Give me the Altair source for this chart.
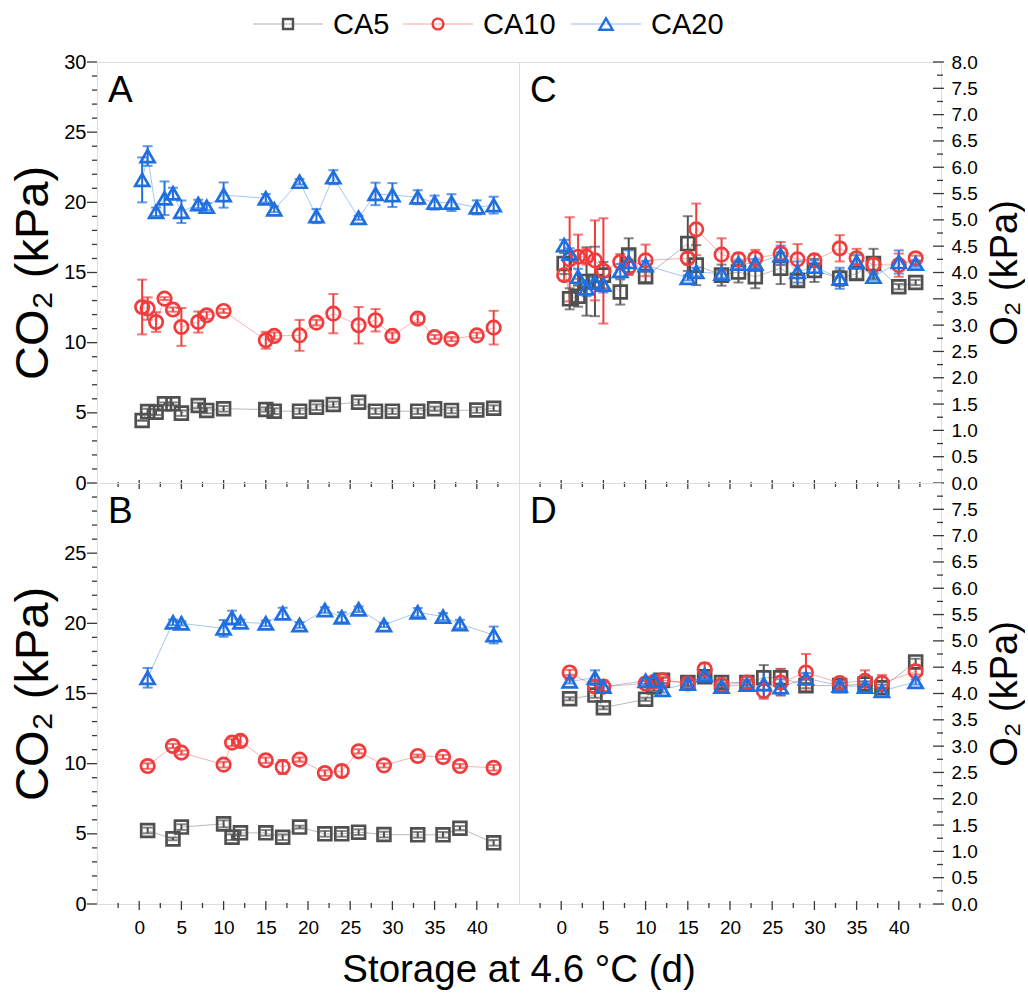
import altair as alt
import pandas as pd

FONT = "Liberation Sans"
TICK = "#3a3a3a"

# ---------------- data ----------------
series = ["CA5", "CA10", "CA20"]
colors = ["#505050", "#f03c3c", "#1f6fde"]
shapes = ["square", "circle", "triangle-up"]
sizes = [165, 195, 290]

days_top = [0.35, 1, 2, 3, 4, 5, 7, 8, 10, 15, 16, 19, 21, 23, 26, 28, 30, 33, 35, 37, 40, 42]
days_bottom = [1, 4, 5, 10, 11, 12, 15, 17, 19, 22, 24, 26, 29, 33, 36, 38, 42]

# Panel A: CO2 (kPa), storage days_top
A_CA5 = [4.45, 5.09, 5.05, 5.64, 5.64, 4.98, 5.52, 5.17, 5.29, 5.24, 5.12, 5.12, 5.40, 5.60, 5.76, 5.12, 5.12, 5.12, 5.29, 5.17, 5.20, 5.33]
A_CA5_err = [0.0, 0.2, 0.2, 0.1, 0.1, 0.2, 0.2, 0.2, 0.2, 0.15, 0.2, 0.2, 0.2, 0.2, 0.2, 0.2, 0.2, 0.2, 0.15, 0.2, 0.2, 0.2]
A_CA10 = [12.54, 12.43, 11.47, 13.14, 12.36, 11.12, 11.47, 11.95, 12.26, 10.17, 10.48, 10.52, 11.43, 12.07, 11.24, 11.60, 10.48, 11.71, 10.40, 10.26, 10.52, 11.07]
A_CA10_err = [1.95, 0.8, 0.7, 0.1, 0.15, 1.35, 0.75, 0.25, 0.15, 0.6, 0.25, 1.1, 0.2, 1.4, 1.3, 0.8, 0.25, 0.3, 0.15, 0.15, 0.2, 1.2]
A_CA20 = [21.6, 23.3, 19.33, 20.29, 20.64, 19.33, 19.88, 19.69, 20.52, 20.29, 19.5, 21.47, 19.02, 21.79, 18.9, 20.6, 20.52, 20.36, 19.98, 19.98, 19.64, 19.8]
A_CA20_err = [1.6, 0.7, 0.3, 1.2, 0.4, 0.8, 0.3, 0.25, 0.9, 0.3, 0.2, 0.2, 0.5, 0.5, 0.15, 0.8, 0.85, 0.5, 0.5, 0.6, 0.5, 0.6]

# Panel B: CO2 (kPa), storage days_bottom
B_CA5 = [5.24, 4.64, 5.48, 5.71, 4.76, 5.07, 5.07, 4.76, 5.48, 5.0, 5.0, 5.12, 4.95, 4.93, 4.93, 5.4, 4.36]
B_CA5_err = [0.2, 0.1, 0.2, 0.25, 0.2, 0.2, 0.2, 0.2, 0.1, 0.2, 0.2, 0.2, 0.2, 0.2, 0.2, 0.15, 0.2]
B_CA10 = [9.83, 11.26, 10.79, 9.93, 11.5, 11.62, 10.24, 9.76, 10.29, 9.33, 9.48, 10.88, 9.88, 10.55, 10.48, 9.83, 9.71]
B_CA10_err = [0.2, 0.15, 0.15, 0.2, 0.25, 0.35, 0.2, 0.5, 0.15, 0.2, 0.4, 0.15, 0.15, 0.1, 0.15, 0.15, 0.2]
B_CA20 = [16.12, 20.07, 20.0, 19.64, 20.4, 20.07, 20.0, 20.71, 19.88, 20.95, 20.43, 21.0, 19.88, 20.79, 20.48, 19.95, 19.17]
B_CA20_err = [0.7, 0.2, 0.15, 0.6, 0.5, 0.2, 0.2, 0.4, 0.2, 0.2, 0.35, 0.2, 0.15, 0.3, 0.25, 0.3, 0.6]

# Panel C: O2 (kPa), storage days_top
C_CA5 = [4.17, 3.50, 3.55, 3.83, 3.83, 3.95, 3.63, 4.33, 3.92, 4.55, 4.14, 3.95, 4.01, 3.92, 4.08, 3.85, 4.04, 3.89, 3.98, 4.17, 3.73, 3.81]
C_CA5_err = [0.2, 0.2, 0.2, 0.65, 0.66, 0.25, 0.24, 0.32, 0.1, 0.52, 0.38, 0.2, 0.2, 0.22, 0.3, 0.1, 0.22, 0.15, 0.1, 0.28, 0.05, 0.05]
C_CA10 = [3.95, 4.25, 4.30, 4.30, 4.23, 4.03, 4.20, 4.10, 4.23, 4.27, 4.82, 4.34, 4.25, 4.27, 4.36, 4.25, 4.23, 4.46, 4.27, 4.15, 4.14, 4.27]
C_CA10_err = [0.1, 0.8, 0.42, 0.15, 0.76, 1.0, 0.15, 0.15, 0.3, 0.1, 0.49, 0.31, 0.12, 0.16, 0.22, 0.29, 0.11, 0.25, 0.18, 0.14, 0.22, 0.05]
C_CA20 = [4.52, 4.36, 3.92, 3.70, 3.81, 3.77, 4.03, 4.20, 4.14, 3.90, 4.01, 3.98, 4.17, 4.17, 4.33, 4.01, 4.11, 3.89, 4.20, 3.92, 4.20, 4.17]
C_CA20_err = [0.1, 0.1, 0.15, 0.15, 0.1, 0.15, 0.13, 0.22, 0.08, 0.05, 0.08, 0.08, 0.06, 0.08, 0.18, 0.2, 0.12, 0.2, 0.13, 0.06, 0.22, 0.06]

# Panel D: O2 (kPa), storage days_bottom
D_CA5 = [3.90, 3.97, 3.73, 3.89, 4.13, 4.25, 4.21, 4.32, 4.21, 4.21, 4.30, 4.30, 4.15, 4.15, 4.18, 4.11, 4.60]
D_CA5_err = [0.03, 0.05, 0.03, 0.03, 0.08, 0.05, 0.05, 0.05, 0.05, 0.05, 0.24, 0.17, 0.05, 0.05, 0.05, 0.06, 0.06]
D_CA10 = [4.40, 4.13, 4.13, 4.19, 4.22, 4.25, 4.19, 4.46, 4.16, 4.21, 4.05, 4.21, 4.40, 4.20, 4.24, 4.20, 4.42]
D_CA10_err = [0.05, 0.1, 0.08, 0.05, 0.05, 0.06, 0.05, 0.12, 0.05, 0.05, 0.15, 0.25, 0.35, 0.06, 0.2, 0.15, 0.06]
D_CA20 = [4.23, 4.30, 4.13, 4.24, 4.25, 4.07, 4.19, 4.35, 4.13, 4.17, 4.18, 4.12, 4.29, 4.15, 4.13, 4.05, 4.22]
D_CA20_err = [0.04, 0.14, 0.12, 0.06, 0.05, 0.05, 0.06, 0.06, 0.05, 0.05, 0.25, 0.15, 0.1, 0.07, 0.06, 0.05, 0.05]

# axis tick labels
x_labels = [0, 5, 10, 15, 20, 25, 30, 35, 40]
co2_labels_top = [0, 5, 10, 15, 20, 25, 30]
co2_labels_bottom = [0, 5, 10, 15, 20, 25]
o2_labels_top = [0.0, 0.5, 1.0, 1.5, 2.0, 2.5, 3.0, 3.5, 4.0, 4.5, 5.0, 5.5, 6.0, 6.5, 7.0, 7.5, 8.0]
o2_labels_bottom = o2_labels_top[:-1]
x_title = "Storage at 4.6 °C (d)"

x_minor = [v + 2.5 for v in [-5] + x_labels]
co2_minor = [v for v in range(0, 31) if v % 5 != 0]
o2_minor = [v / 4 for v in range(0, 33) if v % 2 == 1]

W, H = 422, 421


def long_df(days, vals, errs):
    rows = []
    for s, vs, es in zip(series, vals, errs):
        for d, v, e in zip(days, vs, es):
            rows.append({"series": s, "day": d, "val": v, "lo": v - e, "hi": v + e})
    return pd.DataFrame(rows)


def legend_layers():
    centers = [191, 341, 509]
    out = []
    for s, c, sh, sz, xc in zip(series, colors, shapes, sizes, centers):
        b = alt.Chart(pd.DataFrame({"series": [s]}))
        out.append(b.mark_rule(color=c, strokeWidth=1, opacity=0.45).encode(
            x=alt.value(xc - 35), x2=alt.value(xc + 35), y=alt.value(-38)))
        out.append(b.mark_point(shape=sh, size=sz * 0.6, filled=False, color=c, strokeWidth=2.4,
                                opacity=1).encode(x=alt.value(xc), y=alt.value(-38)))
        out.append(b.mark_text(font=FONT, fontSize=29, align="left", baseline="middle",
                               color="black").encode(text="series:N", x=alt.value(xc + 45),
                                                     y=alt.value(-37)))
    return out


def panel(df, letter, side, ydom, y_labels, y_minor, y_title, fmt, show_x_labels, extra=()):
    xs = alt.Scale(domain=[-5, 45], nice=False, zero=False)
    ys = alt.Scale(domain=ydom, nice=False, zero=False)
    xaxis = alt.Axis(title=None, values=x_labels, labels=show_x_labels, ticks=False, tickSize=0,
                     domain=False, grid=False, labelFont=FONT, labelFontSize=19, labelColor="black",
                     labelPadding=14, labelFlush=False)
    left = side == "left"
    yaxis = alt.Axis(title=y_title, orient=side, values=y_labels, format=fmt, ticks=False, tickSize=0,
                     domain=False, grid=False, labelFont=FONT,
                     labelFontSize=20 if left else 19,
                     labelColor="black", labelPadding=11 if left else 10,
                     labelFlush=False, labelOverlap=False,
                     titleFont=FONT, titleFontSize=47 if left else 38,
                     titleFontWeight="normal", titleColor="black", titleAngle=270,
                     titleBaseline="bottom" if left else "top",
                     titlePadding=6 if left else 9)
    X = alt.X("day:Q", scale=xs, axis=xaxis)
    color = alt.Color("series:N", scale=alt.Scale(domain=series, range=colors), legend=None)
    shape = alt.Shape("series:N", scale=alt.Scale(domain=series, range=shapes), legend=None)
    size = alt.Size("series:N", scale=alt.Scale(domain=series, range=sizes), legend=None)

    base = alt.Chart(df)
    line = base.mark_line(strokeWidth=1, opacity=0.4).encode(
        x=X, y=alt.Y("val:Q", scale=ys, axis=yaxis), color=color)
    err = base.mark_rule(strokeWidth=2).encode(
        x=X, y=alt.Y("lo:Q", scale=ys, axis=yaxis), y2="hi:Q", color=color)
    cap_lo = base.mark_tick(orient="horizontal", size=10, thickness=2).encode(
        x=X, y=alt.Y("lo:Q", scale=ys, axis=yaxis), color=color)
    cap_hi = base.mark_tick(orient="horizontal", size=10, thickness=2).encode(
        x=X, y=alt.Y("hi:Q", scale=ys, axis=yaxis), color=color)
    pts = base.mark_point(filled=False, strokeWidth=2.7, opacity=1).encode(
        x=X, y=alt.Y("val:Q", scale=ys, axis=yaxis), color=color, shape=shape, size=size)

    # tick marks
    xt_major = alt.Chart(pd.DataFrame({"v": x_labels})).mark_rule(color=TICK, strokeWidth=1.3).encode(
        x=alt.X("v:Q", scale=xs, axis=xaxis), y=alt.value(H - 3), y2=alt.value(H + 6))
    xt_minor = alt.Chart(pd.DataFrame({"v": x_minor})).mark_rule(color=TICK, strokeWidth=1.3).encode(
        x=alt.X("v:Q", scale=xs, axis=xaxis), y=alt.value(H - 1), y2=alt.value(H + 4))
    if left:
        mx, nx = (-10, 0), (-5, 0)
    else:
        mx, nx = (W - 8, W + 3), (W - 4, W + 2)
    yt_major = alt.Chart(pd.DataFrame({"v": y_labels})).mark_rule(color=TICK, strokeWidth=1.3).encode(
        y=alt.Y("v:Q", scale=ys, axis=yaxis), x=alt.value(mx[0]), x2=alt.value(mx[1]))
    yt_minor = alt.Chart(pd.DataFrame({"v": y_minor})).mark_rule(color=TICK, strokeWidth=1.3).encode(
        y=alt.Y("v:Q", scale=ys, axis=yaxis), x=alt.value(nx[0]), x2=alt.value(nx[1]))

    lab = alt.Chart(pd.DataFrame({"t": [letter]})).mark_text(
        font=FONT, fontSize=37, align="left", baseline="alphabetic", color="black").encode(
        text="t:N", x=alt.value(11), y=alt.value(40))

    return alt.layer(line, err, cap_lo, cap_hi, pts, xt_major, xt_minor, yt_major, yt_minor, lab,
                     *extra).properties(width=W, height=H)


dfA = long_df(days_top, [A_CA5, A_CA10, A_CA20], [A_CA5_err, A_CA10_err, A_CA20_err])
dfB = long_df(days_bottom, [B_CA5, B_CA10, B_CA20], [B_CA5_err, B_CA10_err, B_CA20_err])
dfC = long_df(days_top, [C_CA5, C_CA10, C_CA20], [C_CA5_err, C_CA10_err, C_CA20_err])
dfD = long_df(days_bottom, [D_CA5, D_CA10, D_CA20], [D_CA5_err, D_CA10_err, D_CA20_err])

co2_title = "CO₂ (kPa)"
o2_title = "O₂ (kPa)"

xtitle_layer = alt.Chart(pd.DataFrame({"t": [x_title]})).mark_text(
    font=FONT, fontSize=38.5, align="center", baseline="alphabetic", color="black").encode(
    text="t:N", x=alt.value(W), y=alt.value(H + 78))

pA = panel(dfA, "A", "left", [0, 30], co2_labels_top, co2_minor, co2_title, "d", False,
           extra=legend_layers())
pB = panel(dfB, "B", "left", [0, 30], co2_labels_bottom, co2_minor, co2_title, "d", True,
           extra=[xtitle_layer])
pC = panel(dfC, "C", "right", [0, 8], o2_labels_top, o2_minor, o2_title, ".1f", False)
pD = panel(dfD, "D", "right", [0, 8], o2_labels_bottom, o2_minor, o2_title, ".1f", True)

chart = alt.concat(pA, pC, pB, pD, columns=2, spacing=0, bounds="flush").properties(
    padding={"left": 9, "top": 10, "right": 0, "bottom": 0}
).configure_view(
    stroke="#707070", strokeWidth=1.5
).configure(font=FONT)

chart.save("out.html", embed_options={"renderer": "svg", "actions": False})
